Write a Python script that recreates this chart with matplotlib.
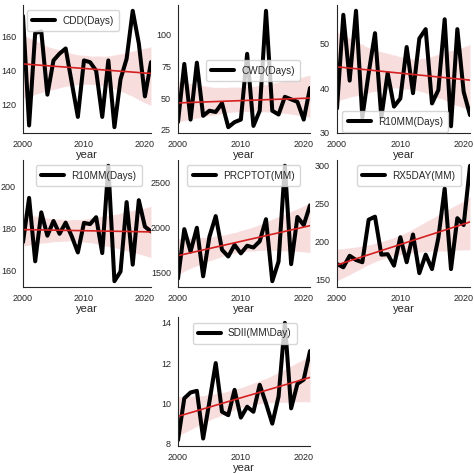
import numpy as np
import matplotlib
matplotlib.use("Agg")
import matplotlib.pyplot as plt
import seaborn as sns

sns.set_style("white")
plt.rcParams['font.family'] = ['Liberation Sans', 'DejaVu Sans']

years = np.arange(2000, 2022)

cdd = [172, 108, 162, 163, 126, 146, 150, 153, 133, 113, 146, 145, 140, 113, 146, 107,
       135, 147, 175, 156, 125, 145]
cwd = [31, 77, 33, 78, 36, 40, 39, 46, 27, 31, 33, 85, 28, 40, 119, 40,
       37, 51, 49, 47, 33, 58]
r10_top = [35.5, 56.4, 41.7, 57.3, 33.5, 43.4, 52.3, 33.5, 43.4, 35.9, 37.7, 49.2, 38.9, 51.1, 53.2, 36.6,
           39.6, 55.4, 31.5, 53.2, 39.2, 34.0]
r10mm = [173.4, 194.5, 164.3, 187.6, 176.5, 183.5, 177.4, 182.7, 176.2, 168.5, 182.6, 182.0, 185.3, 168.2, 209.8, 154.8,
         159.4, 192.5, 162.7, 193.4, 180.8, 178.5]
prcptot = [1434, 1985, 1735, 2000, 1460, 1900, 2130, 1755, 1680, 1810, 1715, 1800, 1780, 1850, 2095, 1405,
           1625, 2690, 1595, 2120, 2030, 2250]
rx5day = [170.7, 166.4, 181.5, 176, 173, 229, 233, 183, 183.6, 168.5, 206, 173, 209.5, 158.6, 183, 164,
          205, 270, 164, 231, 222, 300]
sdii = [8.17, 10.25, 10.54, 10.62, 8.25, 10.08, 12.0, 9.58, 9.41, 10.67, 9.29, 9.83, 9.58, 10.92, 10.0, 8.99,
        10.34, 14.0, 9.75, 10.97, 11.18, 12.6]

labels = ["CDD(Days)", "CWD(Days)", "R10MM(Days)", "R10MM(Days)", "PRCPTOT(MM)", "RX5DAY(MM)", "SDII(MM\\Day)"]
series = [cdd, cwd, r10_top, r10mm, prcptot, rx5day, sdii]
yticks = [[120, 140, 160], [25, 50, 75, 100], [30, 40, 50], [160, 180, 200],
          [1500, 2000, 2500], [150, 200, 250, 300], [8, 10, 12, 14]]

# panel boxes in pixels: left, top, width, height
boxes = [(23, 5, 128, 128), (178, 5, 132, 128), (337, 5, 133, 128),
         (23, 160, 128, 127), (178, 160, 132, 127), (337, 160, 133, 127),
         (178, 317, 132, 129)]
# legend upper-left anchors in axes coords
anchors = [(0.03, 0.96), (0.21, 0.57), (0.04, 0.17),
           (0.10, 0.96), (0.07, 0.96), (0.15, 0.96),
           (0.11, 0.955)]

W = H = 474
fig = plt.figure(figsize=(4.74, 4.74), dpi=100)

for vals, lab, yt, box, anc in zip(series, labels, yticks, boxes, anchors):
    l, t, w, h = box
    ax = fig.add_axes([l / W, 1 - (t + h) / H, w / W, h / H])
    ax.plot(years, vals, color='black', lw=2.9, label=lab)
    sns.regplot(x=years, y=np.array(vals, dtype=float), scatter=False, ax=ax, color='red',
                line_kws={'lw': 1.2, 'color': '#d42020'}, seed=1)
    ax.set_xlim(2000, 2021)
    ax.set_xticks([2000, 2010, 2020])
    ax.set_yticks(yt)
    ax.set_xlabel("year", fontsize=8, color='0.15', labelpad=1)
    ax.set_ylabel("")
    ax.tick_params(labelsize=6.5, pad=1.5, colors='0.15')
    sns.despine(ax=ax)
    ax.legend(loc='upper left', bbox_to_anchor=anc, fontsize=7.2, handlelength=2.3,
              handletextpad=0.7, borderaxespad=0, frameon=True, borderpad=0.55)

fig.savefig("out.png", dpi=100)
